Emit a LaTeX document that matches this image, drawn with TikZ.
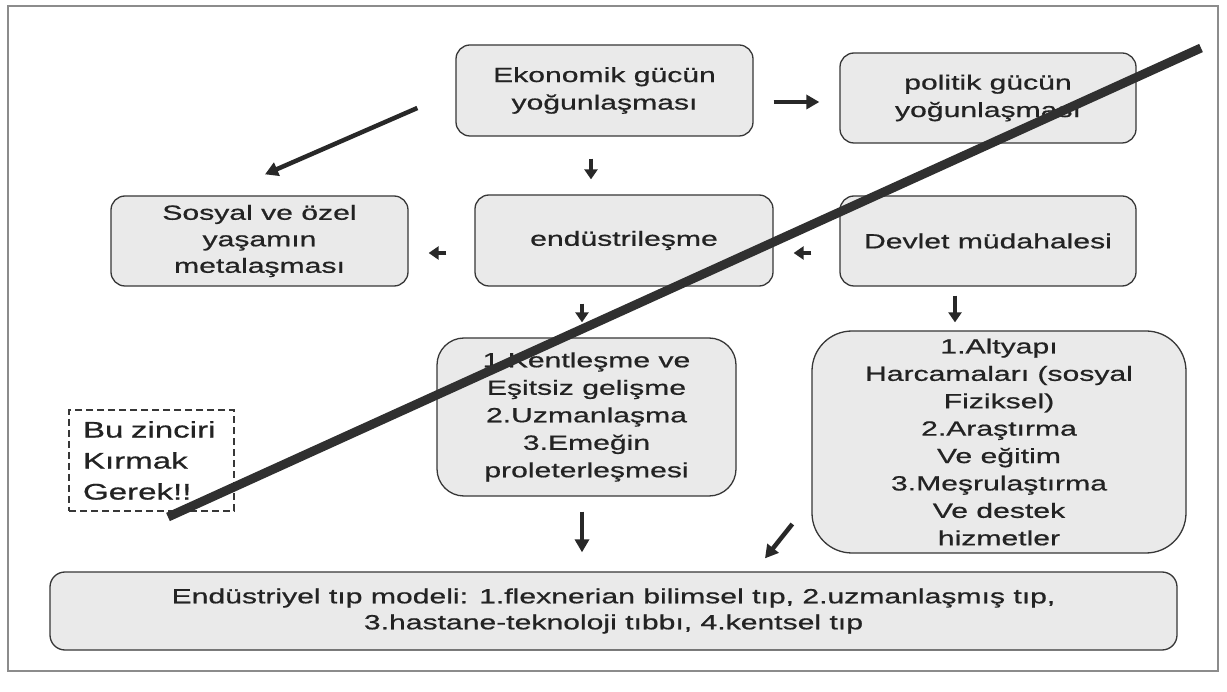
\documentclass[tikz,border=0pt]{standalone}
\usepackage{fontspec}
\setmainfont{Liberation Sans}[FakeStretch=1.47,FakeBold=0.7]
\usetikzlibrary{arrows.meta,calc}
\definecolor{boxfill}{RGB}{234,234,234}
\definecolor{boxline}{RGB}{55,55,55}
\definecolor{txt}{RGB}{35,35,35}
\definecolor{arrcol}{RGB}{40,40,40}
\definecolor{barcol}{RGB}{48,48,48}
\definecolor{framec}{RGB}{140,140,140}
\tikzset{
  box/.style={draw=boxline, line width=1.3pt, fill=boxfill, rounded corners=14pt,
    align=center, inner sep=2pt, text=txt, font=\fontsize{20.5}{27.5}\selectfont},
  dbox/.style={draw=boxline, line width=1.2pt, dash pattern=on 7pt off 4pt,
    align=left, inner xsep=14pt, inner ysep=2pt, text=txt, font=\fontsize{22.5}{31}\selectfont},
  arr/.style={draw=arrcol, line width=4.5pt, -{Triangle[length=13pt,width=14pt]}},
  sarr/.style={draw=arrcol, line width=3.5pt, -{Triangle[length=10pt,width=13pt]}},
  bar/.style={draw=barcol, line width=9pt}
}
\begin{document}
\begin{tikzpicture}[x=1pt,y=-1pt]
\useasboundingbox (0,0) rectangle (1227,692);
\fill[white] (0,0) rectangle (1227,692);
\draw[framec, line width=1.5pt] (8,6) rectangle (1218,671);

\node[box, minimum width=297pt, minimum height=91pt] (eko) at (604.5,90.5)
  {Ekonomik gücün\\yoğunlaşması};
\node[box, minimum width=296pt, minimum height=90pt] (pol) at (988,98)
  {politik gücün\\yoğunlaşması};
\node[box, minimum width=297pt, minimum height=90pt, font=\fontsize{20.5}{26.5}\selectfont] (sos) at (259.5,241)
  {Sosyal ve özel\\yaşamın\\metalaşması};
\node[box, minimum width=298pt, minimum height=91pt] (end) at (624,240.5)
  {endüstrileşme};
\node[box, minimum width=296pt, minimum height=90pt] (dev) at (988,241)
  {Devlet müdahalesi};
\node[box, rounded corners=27pt, minimum width=299pt, minimum height=158pt] (ken) at (586.5,417)
  {1.Kentleşme ve\\Eşitsiz gelişme\\2.Uzmanlaşma\\3.Emeğin\\proleterleşmesi};
\node[box, rounded corners=40pt, minimum width=374pt, minimum height=222pt, inner sep=0pt,
  font=\fontsize{20.5}{27.4}\selectfont] (alt) at (999,442)
  {1.Altyapı\\Harcamaları (sosyal\\Fiziksel)\\2.Araştırma\\Ve eğitim\\3.Meşrulaştırma\\Ve destek\\hizmetler};
\node[dbox, text width=137pt, minimum height=101pt] (bz) at (151.5,460.5)
  {Bu zinciri\\Kırmak\\Gerek!!};
\node[box, rounded corners=15pt, minimum width=1127pt, minimum height=78pt,
  font=\fontsize{20.5}{26}\selectfont] (bot) at (613.5,611)
  {Endüstriyel tıp modeli: 1.flexnerian bilimsel tıp, 2.uzmanlaşmış tıp,\\3.hastane-teknoloji tıbbı, 4.kentsel tıp};

% arrows
\draw[arr] ($(eko.east)+(20,11.5)$) -- ($(pol.west)+(-20,4)$);
\draw[sarr] ($(eko.south)+(-13.5,22)$) -- ($(end.north)+(-33,-15)$);
\draw[sarr] ($(end.west)+(-28,12.5)$) -- ($(sos.east)+(20,12)$);
\draw[sarr] ($(dev.west)+(-28,12)$) -- ($(end.east)+(20,12.5)$);
\draw[arr] ($(eko.west)+(-38,17.5)$) -- ($(sos.north)+(5.5,-21)$);
\draw[sarr] ($(end.south)+(-42,17)$) -- ($(ken.north)+(-4.5,-15)$);
\draw[sarr] ($(dev.south)+(-33,9)$) -- ($(alt.north)+(-44,-8)$);
\draw[arr] ($(ken.south)+(-4.5,15)$) -- ($(bot.north)+(-31.5,-19)$);
\draw[arr] ($(alt.west)+(-19,82)$) -- ($(bot.north)+(151.5,-13)$);

% crossing bar
\coordinate (s1) at (168,517);
\coordinate (s2) at (1201,48);
\draw[bar] (s1) -- (s2);
\end{tikzpicture}
\end{document}
